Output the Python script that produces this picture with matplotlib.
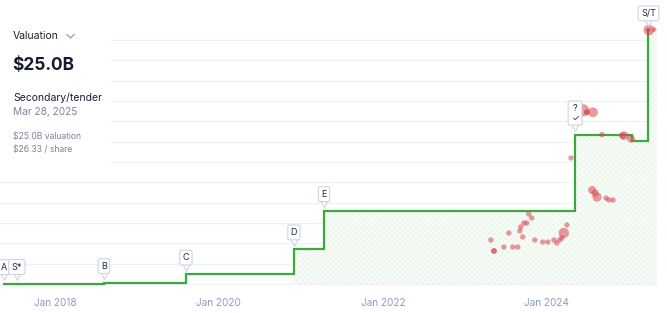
import matplotlib
matplotlib.use("Agg")
import matplotlib.pyplot as plt
from matplotlib.patches import Rectangle
from matplotlib.lines import Line2D
from matplotlib.transforms import offset_copy
import pandas as pd

plt.rcParams['font.family'] = ['Inter', 'DejaVu Sans']
plt.rcParams['hatch.linewidth'] = 0.35

# ---- data ----
round_dates = ["2017-05-18", "2017-07-15", "2018-08-07", "2019-08-07", "2020-11-30",
               "2021-04-13", "2024-05-05", "2025-01-14", "2025-03-28"]
round_labels = ["A", "S*", "B", "C", "D", "E", "?\n\u2713", "", "S/T"]
round_values = [0.02, 0.03, 0.12, 0.95, 3.44, 7.2, 14.7, 14.05, 25.0]   # $B

fill_start = "2020-11-30"
fill_end = "2025-05-05"

trade_dates = ["2024-06-09", "2024-07-24", "2024-06-27", "2024-09-02", "2024-12-09",
               "2025-01-09", "2024-04-17", "2024-07-20", "2024-08-02", "2024-08-11",
               "2024-09-20", "2024-10-03", "2024-10-21", "2023-10-12", "2023-10-25",
               "2023-10-03", "2023-09-20", "2023-09-06", "2023-09-02", "2023-07-15",
               "2023-09-15", "2024-03-30", "2024-03-16", "2024-03-07", "2024-02-27",
               "2024-02-01", "2024-02-14", "2024-01-05", "2023-12-13", "2023-11-08",
               "2023-04-26", "2023-06-23", "2023-08-02", "2023-08-24", "2023-05-10",
               "2023-05-10", "2024-06-27", "2024-12-02", "2025-03-30", "2025-03-28",
               "2025-04-22"]
trade_values = [17.1, 16.9, 16.9, 14.7, 14.6,
                14.3, 12.4, 9.25, 8.96, 8.56,
                8.46, 8.27, 8.27, 6.89, 6.50,
                6.00, 6.00, 5.61, 5.22, 5.02,
                4.63, 5.81, 5.02, 4.53, 4.33,
                4.33, 4.04, 4.13, 4.13, 4.33,
                4.33, 3.64, 3.64, 3.64, 3.25,
                3.25, 16.9, 14.6, 25.0, 25.0,
                25.05]
trade_sizes = [80, 50, 16, 15, 40,
               34, 15, 34, 28, 44,
               15, 15, 15, 15, 15,
               15, 15, 15, 15, 15,
               15, 15, 55, 15, 15,
               15, 15, 15, 15, 15,
               15, 15, 15, 15, 17,
               17, 17, 24, 60, 12,
               12]

xtick_dates = ["2018-01-01", "2020-01-01", "2022-01-01", "2024-01-01"]
xtick_labels = ["Jan 2018", "Jan 2020", "Jan 2022", "Jan 2024"]
ygrid = list(range(0, 25, 2))

# ---- figure ----
W, H = 667, 313
fig = plt.figure(figsize=(W / 100, H / 100), dpi=100)
ax = fig.add_axes([0, 26 / H, 657 / W, 287 / H])

rd = pd.to_datetime(round_dates)
ax.set_xlim(pd.Timestamp("2017-05-01"), pd.Timestamp("2025-05-05"))
ax.set_ylim(-0.295, 27.95)

# fill under step (from fill_start)
fx = [d for d in rd if d >= pd.Timestamp(fill_start)] + [pd.Timestamp(fill_end)]
fy = [v for d, v in zip(rd, round_values) if d >= pd.Timestamp(fill_start)]
fy = fy + [fy[-1]]
ax.fill_between(fx, 0, fy, step="post", facecolor="#f8fcf8", edgecolor="#e4f2e4",
                hatch="xxxxxx", linewidth=0, zorder=1)

# grid
for g in ygrid:
    ax.axhline(g, color="#eef1f5", lw=0.9, zorder=0.5)

# step line
ax.step(rd, round_values, where="post", color="#3aaa3f", lw=1.6, zorder=3,
        solid_joinstyle="miter")

# scatter trades
td = pd.to_datetime(trade_dates)
ax.scatter(td, trade_values, s=trade_sizes, color="#d9464e", alpha=0.55,
           linewidths=0, zorder=4)

for s in ax.spines.values():
    s.set_visible(False)
ax.set_yticks([])
ax.set_xticks(pd.to_datetime(xtick_dates))
ax.set_xticklabels(xtick_labels, color="#8d9dbd", fontsize=7.2)
ax.tick_params(axis="x", length=0, pad=8)

# round labels
ptr = offset_copy(ax.transData, fig=fig, x=0, y=7.5, units="dots")
for d, v, lab in zip(rd, round_values, round_labels):
    if not lab:
        continue
    ax.plot([d], [v], marker="v", ms=5.5, mfc="white", mec="#cdd5e0", mew=0.8,
            transform=ptr, zorder=6, clip_on=False)
    two = "\n" in lab
    ax.annotate(lab, (d, v), xytext=(0, 15.5 if two else 12),
                textcoords="offset points", ha="center", va="center",
                fontsize=6.5, color="#1f2a44", linespacing=1.05,
                zorder=7, annotation_clip=False,
                bbox=dict(boxstyle="round,pad=0.32,rounding_size=0.2",
                          fc="white", ec="#cdd5e0", lw=0.8))

# info panel
def fx_(px):
    return px / W

def fy_(py):
    return 1 - py / H

fig.add_artist(Rectangle((0, fy_(168)), 111 / W, (168 - 22) / H,
                         transform=fig.transFigure, fc="white", ec="none", zorder=2))
fig.text(fx_(13), fy_(36), "Valuation", fontsize=7.5, color="#1a2233",
         va="center", ha="left", zorder=3)
fig.add_artist(Line2D([fx_(67), fx_(70.5), fx_(74)], [fy_(34.5), fy_(38), fy_(34.5)],
                      transform=fig.transFigure, color="#8a93a3", lw=0.8, zorder=3))
fig.text(fx_(12), fy_(66), "$25.0B", fontsize=12.5, fontweight="bold",
         color="#141c2e", va="center", ha="left", zorder=3)
fig.text(fx_(13), fy_(97.5), "Secondary/tender", fontsize=7.5, color="#1a2233",
         va="center", ha="left", zorder=3)
fig.text(fx_(13), fy_(112.5), "Mar 28, 2025", fontsize=7.3, color="#7a8599",
         va="center", ha="left", zorder=3)
fig.text(fx_(13), fy_(137), "$25.0B valuation", fontsize=6.2, color="#7a8599",
         va="center", ha="left", zorder=3)
fig.text(fx_(13), fy_(149), "$26.33 / share", fontsize=6.2, color="#7a8599",
         va="center", ha="left", zorder=3)

fig.savefig("out.png", dpi=100, facecolor="white")
